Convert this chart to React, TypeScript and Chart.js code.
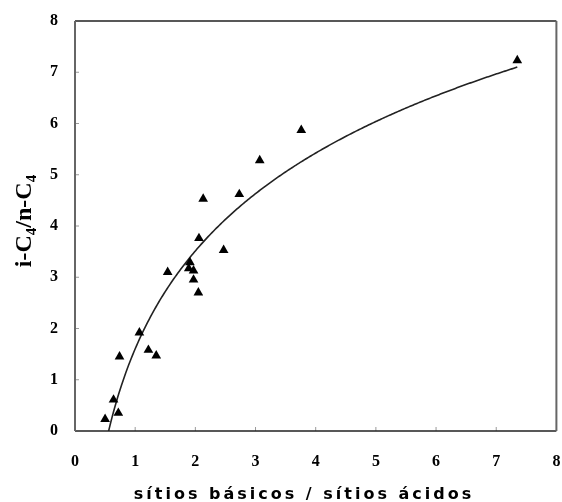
import React, { useEffect, useRef } from 'react';
import { Chart, registerables } from 'chart.js';

Chart.register(...registerables);

// Basic/acid site ratio of each catalyst and the measured iso/normal butane ratio
const siteRatio = [0.50, 0.64, 0.72, 0.74, 1.07, 1.22, 1.35, 1.54, 1.91, 1.89, 1.97, 1.97, 2.05, 2.06, 2.13, 2.47, 2.73, 3.07, 3.76, 7.35];
const isoNormal = [0.23, 0.61, 0.35, 1.45, 1.92, 1.58, 1.47, 3.10, 3.29, 3.17, 3.13, 2.95, 2.70, 3.76, 4.53, 3.53, 4.62, 5.28, 5.87, 7.23];

const AXIS_MIN = 0;
const AXIS_MAX = 8;

// Least-squares fit of y = a·ln(x) + b (logarithmic trendline)
function logFit(xs: number[], ys: number[]) {
  const n = xs.length;
  const lx = xs.map((v) => Math.log(v));
  const mx = lx.reduce((s, v) => s + v, 0) / n;
  const my = ys.reduce((s, v) => s + v, 0) / n;
  let sxy = 0;
  let sxx = 0;
  for (let i = 0; i < n; i++) {
    sxy += (lx[i] - mx) * (ys[i] - my);
    sxx += (lx[i] - mx) * (lx[i] - mx);
  }
  const a = sxy / sxx;
  return { a, b: my - a * mx };
}

const decorations = {
  id: 'decorations',
  beforeDatasetsDraw(chart: any) {
    const { ctx, chartArea, scales } = chart;
    const { left, right, top, bottom } = chartArea;
    const fit = logFit(siteRatio, isoNormal);
    const x0 = Math.min(...siteRatio);
    const x1 = Math.max(...siteRatio);

    ctx.save();
    // inward tick marks
    ctx.strokeStyle = '#9a9a9a';
    ctx.lineWidth = 1;
    for (let v = AXIS_MIN + 1; v < AXIS_MAX; v++) {
      const px = scales.x.getPixelForValue(v);
      ctx.beginPath();
      ctx.moveTo(px, bottom);
      ctx.lineTo(px, bottom - 4);
      ctx.stroke();
      const py = scales.y.getPixelForValue(v);
      ctx.beginPath();
      ctx.moveTo(left, py);
      ctx.lineTo(left + 4, py);
      ctx.stroke();
    }

    // trendline
    ctx.beginPath();
    ctx.rect(left, top, right - left, bottom - top);
    ctx.clip();
    ctx.strokeStyle = '#222';
    ctx.lineWidth = 1.6;
    ctx.beginPath();
    const steps = 300;
    for (let i = 0; i <= steps; i++) {
      const xv = x0 + ((x1 - x0) * i) / steps;
      const yv = fit.a * Math.log(xv) + fit.b;
      const px = scales.x.getPixelForValue(xv);
      const py = scales.y.getPixelForValue(yv);
      if (i === 0) ctx.moveTo(px, py);
      else ctx.lineTo(px, py);
    }
    ctx.stroke();
    ctx.restore();
  },
  afterDraw(chart: any) {
    const { ctx, chartArea } = chart;
    const { left, right, top, bottom } = chartArea;
    ctx.save();
    // plot frame
    ctx.lineWidth = 1.5;
    ctx.strokeStyle = '#222';
    ctx.beginPath();
    ctx.moveTo(left, top);
    ctx.lineTo(right, top);
    ctx.moveTo(left, bottom);
    ctx.lineTo(right, bottom);
    ctx.stroke();
    ctx.strokeStyle = '#666';
    ctx.lineWidth = 2;
    ctx.beginPath();
    ctx.moveTo(left, top);
    ctx.lineTo(left, bottom);
    ctx.moveTo(right, top);
    ctx.lineTo(right, bottom);
    ctx.stroke();

    // y-axis title with subscripts
    ctx.fillStyle = '#000';
    const big = 'bold 24px "Liberation Serif"';
    const small = 'bold 15px "Liberation Serif"';
    const parts: [string, boolean][] = [['i-C', false], ['4', true], ['/n-C', false], ['4', true]];
    let total = 0;
    for (const [t, sub] of parts) {
      ctx.font = sub ? small : big;
      total += ctx.measureText(t).width;
    }
    ctx.translate(31, (top + bottom) / 2 - 5);
    ctx.rotate(-Math.PI / 2);
    ctx.textBaseline = 'alphabetic';
    let cx = -total / 2;
    for (const [t, sub] of parts) {
      ctx.font = sub ? small : big;
      ctx.fillText(t, cx, sub ? 5 : 0);
      cx += ctx.measureText(t).width;
    }
    ctx.restore();

    // x-axis title
    ctx.save();
    ctx.fillStyle = '#000';
    ctx.font = 'bold 16px "DejaVu Sans"';
    (ctx as any).letterSpacing = '3px';
    ctx.textAlign = 'center';
    ctx.textBaseline = 'alphabetic';
    ctx.fillText('sítios básicos / sítios ácidos', 304, 499);
    ctx.restore();
  },
};

export default function App() {
  const canvasRef = useRef<HTMLCanvasElement | null>(null);

  useEffect(() => {
    const canvas = canvasRef.current;
    if (!canvas) return;
    const tickFont = { family: 'Liberation Serif', size: 16, weight: 700 };
    const chart = new Chart(canvas, {
      type: 'scatter',
      data: {
        datasets: [
          {
            data: siteRatio.map((x, i) => ({ x, y: isoNormal[i] })),
            pointStyle: 'triangle',
            pointRadius: 5.6,
            pointHoverRadius: 5.6,
            backgroundColor: '#000',
            borderColor: '#000',
            borderWidth: 0,
          },
        ],
      },
      options: {
        responsive: false,
        animation: false,
        events: [],
        layout: { padding: { top: 21, right: 5, left: 0, bottom: 0 } },
        plugins: { legend: { display: false }, tooltip: { enabled: false } },
        scales: {
          x: {
            type: 'linear',
            min: AXIS_MIN,
            max: AXIS_MAX,
            border: { display: false },
            grid: { display: false, drawTicks: false },
            ticks: { stepSize: 1, color: '#000', font: tickFont, padding: 21, maxRotation: 0 },
            afterFit(scale: any) {
              scale.height = 71;
              scale.paddingLeft = 0;
              scale.paddingRight = 0;
            },
          },
          y: {
            type: 'linear',
            min: AXIS_MIN,
            max: AXIS_MAX,
            border: { display: false },
            grid: { display: false, drawTicks: false },
            ticks: { stepSize: 1, color: '#000', font: tickFont, padding: 17 },
            afterFit(scale: any) {
              scale.width = 75;
              scale.paddingTop = 0;
              scale.paddingBottom = 0;
            },
          },
        },
      },
      plugins: [decorations],
    });
    return () => chart.destroy();
  }, []);

  return (
    <div style={{ position: 'fixed', left: 0, top: 0, width: 562, height: 502, background: '#fff' }}>
      <canvas ref={canvasRef} width={562} height={502} style={{ display: 'block' }} />
    </div>
  );
}
